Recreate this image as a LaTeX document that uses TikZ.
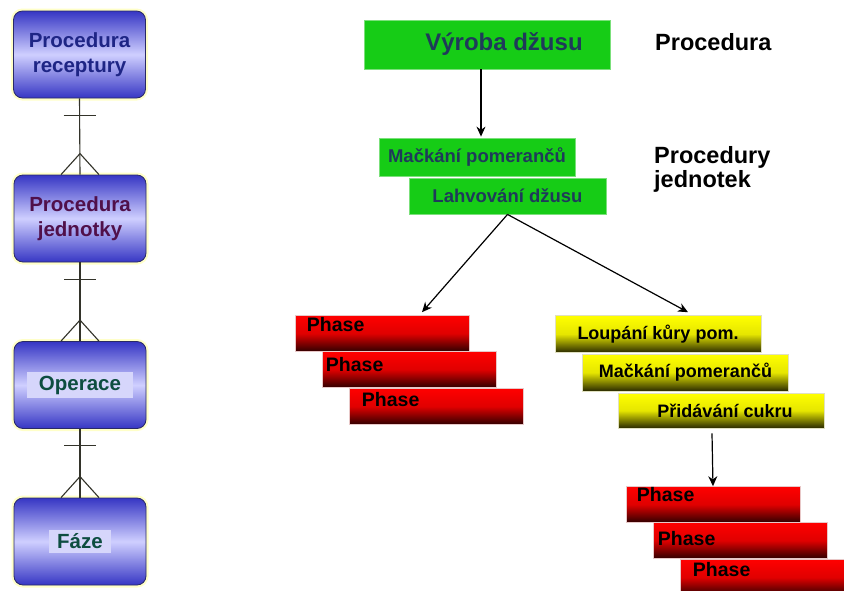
\documentclass[tikz,border=0pt]{standalone}
\usepackage{fontspec}
\setmainfont{Liberation Sans}
\usetikzlibrary{arrows.meta,calc}

\definecolor{levelblue}{HTML}{3636C4}
\definecolor{levellight}{HTML}{CFCFFF}
\definecolor{levelrim}{HTML}{2A2A66}
\definecolor{halo}{HTML}{FFFFC8}
\definecolor{txtrec}{HTML}{1E2585}
\definecolor{txtjed}{HTML}{50104A}
\definecolor{txtop}{HTML}{0D4D40}
\definecolor{txtbg}{HTML}{D6D6FB}
\definecolor{erink}{HTML}{33332A}
\definecolor{juicegreen}{HTML}{16CC16}
\definecolor{juicerim}{HTML}{7BE07B}
\definecolor{navytxt}{HTML}{1F3A5A}
\definecolor{phasetop}{HTML}{FF0000}
\definecolor{phasemid}{HTML}{E00000}
\definecolor{phasebot}{HTML}{300000}
\definecolor{phaserim}{HTML}{E8C8C8}
\definecolor{steptop}{HTML}{FFFF00}
\definecolor{stepmid}{HTML}{E6E600}
\definecolor{stepbot}{HTML}{2A2A00}
\definecolor{steprim}{HTML}{E0E0C0}

\begin{document}
\begin{tikzpicture}[x=1pt,y=-1pt,
  levelbox/.style={rectangle, rounded corners=9pt, draw=levelrim, line width=0.8pt,
    top color=levelblue, bottom color=levelblue, middle color=levellight,
    preaction={draw=halo, line width=5pt},
    minimum width=132pt, minimum height=87pt, align=center,
    font=\fontsize{20.5}{25}\selectfont\bfseries},
  erline/.style={draw=erink, line width=1.1pt},
  greenbox/.style={rectangle, fill=juicegreen, draw=juicerim, line width=0.8pt,
    text=navytxt, font=\fontsize{18.5}{20}\selectfont\bfseries, inner sep=0pt},
  phasebox/.style={rectangle, draw=phaserim, line width=0.6pt,
    top color=phasetop, bottom color=phasebot, middle color=phasemid,
    minimum width=174pt, minimum height=36pt, inner sep=0pt},
  phasetext/.style={anchor=north west, inner sep=0pt, text=black,
    font=\fontsize{19.5}{21}\selectfont\bfseries},
  stepbox/.style={rectangle, draw=steprim, line width=0.6pt,
    top color=steptop, bottom color=stepbot, middle color=stepmid,
    minimum width=206pt, minimum height=37pt, inner sep=0pt, text=black,
    font=\fontsize{18}{20}\selectfont\bfseries},
  arr/.style={-{Stealth[length=10pt,width=9pt]}, line width=1.2pt, draw=black},
  tag/.style={inner sep=0pt, anchor=north west, align=left, text=black,
    font=\fontsize{23.5}{24}\selectfont\bfseries}
]
\useasboundingbox (0,0) rectangle (844,590);
\fill[white] (0,0) rectangle (844,590);
\clip (0,0) rectangle (844,590);

% ---------- hierarchy of levels (left column) ----------
\node[levelbox, text=txtrec] (b1) at (79.5,54.5) {Procedura\\receptury};
\node[levelbox, text=txtjed] (b2) at (80,218.5) {Procedura\\jednotky};
\node[levelbox, text=txtop]  (b3) at (80,385)   {\setlength\fboxsep{4pt}\colorbox{txtbg}{\hspace*{8pt}Operace\hspace*{8pt}}};
\node[levelbox, text=txtop]  (b4) at (80,541.5) {\setlength\fboxsep{4pt}\colorbox{txtbg}{\hspace*{4pt}F\'aze\hspace*{4pt}}};

% one-to-many links: bar at the parent end, crow's foot at the child end
\foreach \p/\c in {b1/b2, b2/b3, b3/b4}{
  \draw[erline] (\p.south) -- (\c.north);
  \draw[erline] ([xshift=-16pt,yshift=-17pt]\p.south) -- ([xshift=16pt,yshift=-17pt]\p.south);
  \draw[erline] ([xshift=-19pt]\c.north) -- ([yshift=21pt]\c.north) -- ([xshift=19pt]\c.north);
}

% ---------- procedure ----------
\node[greenbox, minimum width=246pt, minimum height=49pt,
      font=\fontsize{24}{26}\selectfont\bfseries] (g0) at (487,44.5)
      {\hspace*{34pt}V\'yroba d\v{z}usu};
\node[tag] (tproc) at (655,33) {Procedura};

% ---------- unit procedures ----------
\node[greenbox, minimum width=196pt, minimum height=38pt] (g1) at (477,157) {Ma\v{c}k\'an\'i pomeran\v{c}\r{u}};
\node[greenbox, minimum width=197pt, minimum height=36pt] (g2) at (507.5,196) {Lahvov\'an\'i d\v{z}usu};
\node[tag] (tunit) at (654,146) {Procedury\\jednotek};

\draw[arr] ([xshift=-6pt]g0.south) -- ([xshift=-6pt,yshift=1pt]g0.south |- g1.north);

% ---------- phases of the first unit procedure ----------
\node[phasebox] (p1) at (382,333.5) {};
\node[phasebox] (p2) at (409,369.5) {};
\node[phasebox] (p3) at (436,406.5) {};
\node[phasetext] (p1t) at ($(p1.north west)+(12,2)$) {Phase};
\node[phasetext] (p2t) at ($(p2.north west)+(4,6)$) {Phase};
\node[phasetext] (p3t) at ($(p3.north west)+(13,4)$) {Phase};

% ---------- operations of the second unit procedure ----------
\node[stepbox] (y1) at (658,334) {Loup\'an\'i k\r{u}ry pom.};
\node[stepbox] (y2) at (685.5,372.5) {Ma\v{c}k\'an\'i pomeran\v{c}\r{u}};
\node[stepbox, minimum height=35pt] (y3) at (721,410.5) {\hspace*{8pt}P\v{r}id\'av\'an\'i cukru};

\draw[arr] (g2.south) -- ([xshift=40pt,yshift=3pt]p1.north);
\draw[arr] (g2.south) -- ([xshift=30pt,yshift=3pt]y1.north);

% ---------- phases of the last operation ----------
\node[phasebox] (p4) at (713,504.5) {};
\node[phasebox] (p5) at (740,540.5) {};
\node[phasebox] (p6) at (767,577.5) {};
\node[phasetext] (p4t) at ($(p4.north west)+(11,1)$) {Phase};
\node[phasetext] (p5t) at ($(p5.north west)+(5,9)$) {Phase};
\node[phasetext] (p6t) at ($(p6.north west)+(13,3)$) {Phase};

\draw[arr] ([xshift=-9pt,yshift=-5pt]y3.south) -- (p4.north);
\end{tikzpicture}
\end{document}
